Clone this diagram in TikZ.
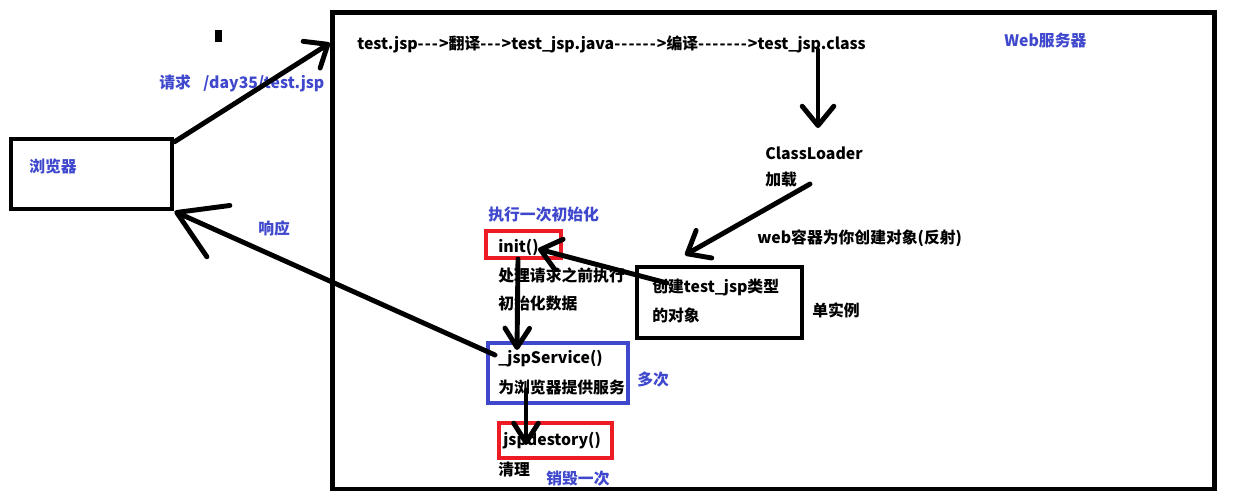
\documentclass[tikz,border=0pt]{standalone}
\usepackage{fontspec}
\newfontfamily\zh{Noto Sans CJK SC}
\usepackage{tikz}
\usetikzlibrary{arrows.meta}
\definecolor{pblue}{RGB}{63,72,204}
\definecolor{pred}{RGB}{237,28,36}
\newcommand\dsh{-\kern0.6pt}

\begin{document}
\begin{tikzpicture}[x=0.02cm, y=-0.02cm,
    pen/.style={line width=2.8pt, line cap=round},
    tipm/.style={-{Straight Barb[length=11pt, width=18pt, round]}},
    tipb/.style={-{Straight Barb[length=26pt, width=32pt, round]}},
    tips/.style={-{Straight Barb[length=11pt, width=14pt, round]}},
    frame/.style={draw, line width=2.8pt, inner sep=0pt},
    cframe/.style={draw=#1, line width=2.6pt, inner sep=0pt},
    txt/.style={anchor=west, inner sep=0pt, font=\zh\bfseries\fontsize{9pt}{11pt}\selectfont},
    note/.style={txt, text=pblue}]
  \useasboundingbox (0,0) rectangle (1239,500);
  % boxes
  \node[frame, minimum width=17.66cm, minimum height=9.54cm] (server) at (773.5,250.5) {};
  \node[frame, minimum width=3.22cm, minimum height=1.4cm] (browser) at (91.5,174) {};
  \node[frame, minimum width=3.3cm, minimum height=1.42cm] (obj) at (719.5,302.5) {};
  \node[cframe=pred, minimum width=1.5cm, minimum height=0.54cm] (init) at (523.5,244.5) {};
  \node[cframe=pblue, minimum width=2.8cm, minimum height=1.2cm] (svc) at (558,373) {};
  \node[cframe=pred, minimum width=2.26cm, minimum height=0.7cm] (destroy) at (555.5,440.5) {};
  \fill (215,30) rectangle (222,42);
  % texts
  \node[note] (browserlbl) at (29,166) {浏览器};
  \node[note] (reqlbl) at (159,83) {请求\hspace{5pt} /day35/test.jsp};
  \node[note] (resplbl) at (258,228) {响应};
  \node[note] (serverlbl) at (1004,40) {Web服务器};
  \node[txt] (chain) at (357,44) {test.jsp\dsh\dsh\dsh>翻译\dsh\dsh\dsh>test\_jsp.java\dsh\dsh\dsh\dsh\dsh\dsh>编译\dsh\dsh\dsh\dsh\dsh\dsh\dsh>test\_jsp.class};
  \node[txt] (loader) at (765,153) {ClassLoader};
  \node[txt] (loadlbl) at (765,180) {加载};
  \node[txt] (reflect) at (757,238) {web容器为你创建对象(反射)};
  \node[txt] (objl1) at (652,287) {创建test\_jsp类型};
  \node[txt] (objl2) at (652,315) {的对象};
  \node[txt] (single) at (812,310) {单实例};
  \node[note] (oncel) at (488,215) {执行一次初始化};
  \node[txt] (initl) at (498,247) {init()};
  \node[txt] (initd1) at (498,275) {处理请求之前执行};
  \node[txt] (initd2) at (498,303) {初始化数据};
  \node[txt] (svcl1) at (498,359) {\_jspService()};
  \node[txt] (svcl2) at (498,387) {为浏览器提供服务};
  \node[note] (many) at (637,380) {多次};
  \node[txt] (destroyl) at (503,441) {jspdestory()};
  \node[txt] (cleanl) at (498,470) {清理};
  \node[note] (oncedl) at (546,479) {销毁一次};
  % arrow ends
  \coordinate (reqtip) at (330,43);
  \coordinate (resps) at (495,355);
  \coordinate (clss) at (818,50);
  \coordinate (clst) at (818,128);
  \coordinate (loads) at (810,184);
  \coordinate (loadt) at (685,255);
  \coordinate (objs) at (667,283);
  \coordinate (initt) at (538,249);
  \coordinate (inits) at (518,259);
  \coordinate (svct) at (517,350);
  \coordinate (svcs) at (526,390);
  \coordinate (destt) at (526,445);
  % arrows
  \draw[pen, tipm] ([yshift=-3pt]browser.north east) -- (reqtip);
  \draw[pen, tipb] (resps) -- (browser.south east);
  \draw[pen, tipm] (clss) -- (clst);
  \draw[pen, tipm] (loads) -- (loadt);
  \draw[pen, tipm] (objs) -- (initt);
  \draw[pen, tips] (inits) -- (svct);
  \draw[pen, tips] (svcs) -- (destt);
\end{tikzpicture}
\end{document}
